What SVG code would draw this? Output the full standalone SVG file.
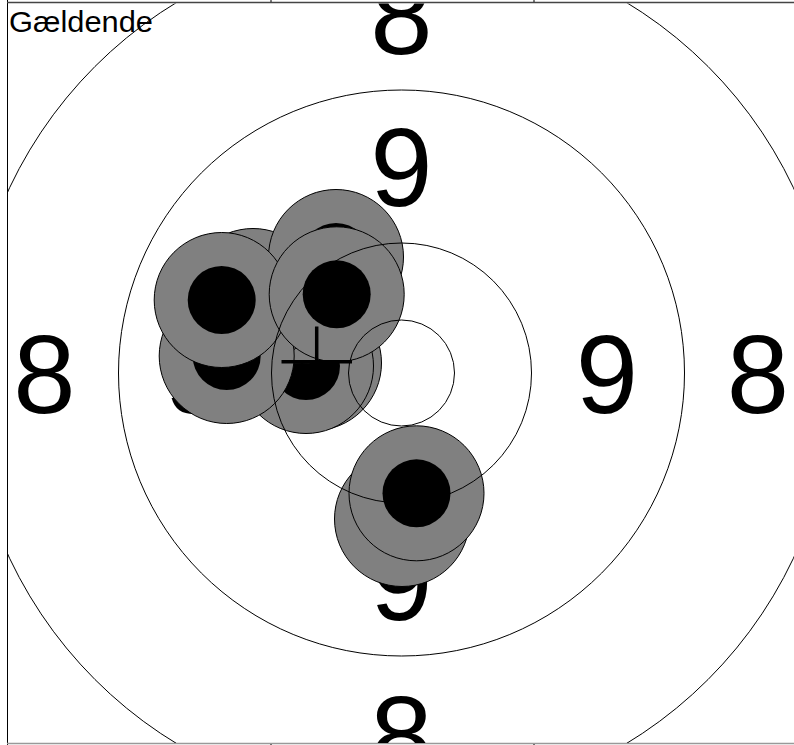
<svg xmlns="http://www.w3.org/2000/svg" width="794" height="745" viewBox="0 0 794 745">
<style>
.num{font-family:"Liberation Sans",Arial,sans-serif;font-size:112px;text-anchor:middle;fill:#000}
.lbl{font-family:"Liberation Sans",Arial,sans-serif;font-size:30px;fill:#000}
.ring{fill:none;stroke:#000;stroke-width:1}
.hole{fill:#808080;stroke:#000;stroke-width:1}
.core{fill:#000}
.frame{stroke:#000;stroke-width:1;fill:none}
</style>
<defs>
<clipPath id="area"><rect x="8" y="3.5" width="786" height="739.5"/></clipPath>
</defs>
<rect width="794" height="745" fill="#fff"/>
<g id="frame">
<line class="frame" x1="7.5" y1="0" x2="7.5" y2="745"/>
<line x1="7" y1="2.5" x2="794" y2="2.5" stroke="#444" stroke-width="1.5"/>
<line x1="7" y1="743.5" x2="794" y2="743.5" stroke="#999" stroke-width="1.5"/>
<line class="frame" x1="271" y1="0" x2="271" y2="2"/>
<line class="frame" x1="534" y1="0" x2="534" y2="2"/>
<line class="frame" x1="271" y1="744" x2="271" y2="745"/>
<line class="frame" x1="534" y1="744" x2="534" y2="745"/>
</g>
<g id="target" clip-path="url(#area)">
<g id="numbers">
<text class="num" x="401.5" y="54">8</text>
<text class="num" x="401.5" y="774">8</text>
<text class="num" x="44.5" y="413">8</text>
<text class="num" x="758" y="413">8</text>
<text class="num" x="401.5" y="206">9</text>
<text class="num" x="401.5" y="620">9</text>
<text class="num" x="196" y="413">9</text>
<text class="num" x="607" y="413">9</text>
</g>
<text id="title" class="lbl" x="9" y="32" textLength="144" lengthAdjust="spacingAndGlyphs">Gældende</text>
<g id="shots">
<g id="shot-j"><circle class="hole" cx="402" cy="519" r="67.5"/><circle class="core" cx="402" cy="519" r="34"/></g>
<g id="shot-i"><circle class="hole" cx="416.5" cy="493.3" r="67.5"/><circle class="core" cx="416.5" cy="493.3" r="34"/></g>
<g id="shot-h"><circle class="hole" cx="314" cy="363" r="67.5"/><circle class="core" cx="314" cy="363" r="34"/></g>
<g id="shot-g"><circle class="hole" cx="306" cy="366" r="67.5"/><circle class="core" cx="306" cy="366" r="34"/></g>
<g id="shot-k"><circle class="hole" cx="302" cy="296" r="67.5"/><circle class="core" cx="302" cy="296" r="34"/></g>
<g id="shot-e"><circle class="hole" cx="253" cy="296" r="67.5"/><circle class="core" cx="253" cy="296" r="34"/></g>
<g id="shot-c"><circle class="hole" cx="336" cy="257" r="67.5"/><circle class="core" cx="336" cy="257" r="34"/></g>
<g id="shot-d"><circle class="hole" cx="226.7" cy="356" r="67.5"/><circle class="core" cx="226.7" cy="356" r="34"/></g>
<g id="shot-a"><circle class="hole" cx="221.7" cy="300" r="67.5"/><circle class="core" cx="221.7" cy="300" r="34"/></g>
<g id="shot-b"><circle class="hole" cx="336.7" cy="294.3" r="67.5"/><circle class="core" cx="336.7" cy="294.3" r="34"/></g>
</g>
<g id="rings">
<circle class="ring" cx="401.5" cy="373" r="53"/>
<circle class="ring" cx="401.5" cy="373" r="130"/>
<circle class="ring" cx="401.5" cy="373" r="283"/>
<circle class="ring" cx="401.5" cy="373" r="433.5"/>
</g>
<g id="crosshair" stroke="#000" stroke-width="3.5" fill="none">
<line x1="316.7" y1="326.5" x2="316.7" y2="361.7"/>
<line x1="281.5" y1="361.7" x2="352" y2="361.7"/>
</g>
</g>
</svg>
